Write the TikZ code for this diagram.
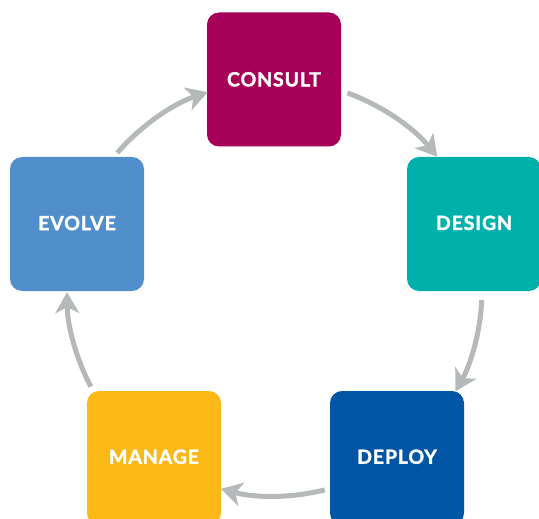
\documentclass[tikz,border=0pt]{standalone}
\usepackage{fontspec}
\setmainfont{Lato}
\newfontfamily\stagefont[BoldFeatures={FakeBold=1.8,LetterSpace=4.5}]{Lato}
\usetikzlibrary{arrows.meta,calc}
\definecolor{cConsult}{RGB}{167,0,89}
\definecolor{cDesign}{RGB}{0,176,170}
\definecolor{cEvolve}{RGB}{80,143,204}
\definecolor{cDeploy}{RGB}{0,85,164}
\definecolor{cManage}{RGB}{251,184,23}
\definecolor{cArrow}{RGB}{182,185,186}
\tikzset{
  stagebox/.style={fill=#1, rounded corners=12pt, minimum width=134pt, minimum height=134pt,
    inner sep=0pt, text=white, font=\stagefont\fontsize{19.5}{21}\selectfont\bfseries},
  cyclearrow/.style={draw=cArrow, line width=5pt,
    -{Stealth[length=21pt, width=24pt, inset=6pt]}}
}
\begin{document}
\begin{tikzpicture}[x=1pt,y=-1pt]
\useasboundingbox (0,0) rectangle (539,519);
\node[stagebox=cConsult] (consult) at (274,79.5) {\raisebox{0.5pt}{CONSULT}};
\node[stagebox=cDesign] (design) at (474,224) {\raisebox{2.3pt}{DESIGN}};
\node[stagebox=cDeploy] (deploy) at (397,458) {\raisebox{2.7pt}{DEPLOY}};
\node[stagebox=cManage] (manage) at (154,458) {\raisebox{2.7pt}{MANAGE}};
\node[stagebox=cEvolve] (evolve) at (77,224) {\raisebox{2pt}{EVOLVE}};
\coordinate (ctr) at (275,290);
\coordinate (t1) at ($(ctr)+(221:209)$);
\coordinate (t2) at ($(ctr)+(290.2:210)$);
\coordinate (t3) at ($(ctr)+(2.75:207)$);
\coordinate (t4) at ($(ctr)+(76:206)$);
\coordinate (t5) at ($(ctr)+(152.3:208)$);
\draw[cyclearrow] (t1) arc[start angle=221, end angle=251.2, radius=209];
\draw[cyclearrow] (t2) arc[start angle=290.2, end angle=320.6, radius=210];
\draw[cyclearrow] (t3) arc[start angle=2.75, end angle=29.3, radius=207];
\draw[cyclearrow] (t4) arc[start angle=76, end angle=105.2, radius=206];
\draw[cyclearrow] (t5) arc[start angle=152.3, end angle=179.4, radius=208];
\end{tikzpicture}
\end{document}
